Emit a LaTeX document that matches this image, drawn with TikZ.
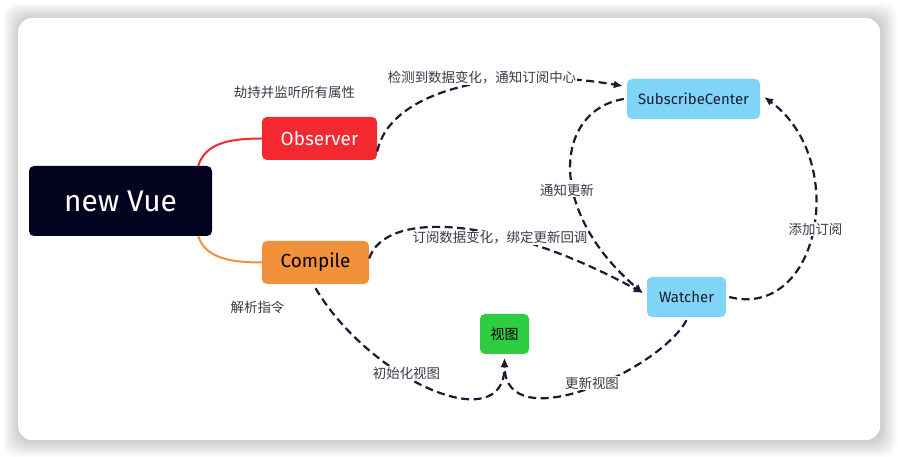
\documentclass[tikz,border=0pt]{standalone}
\usepackage{fontspec}
\setmainfont{Fira Sans}
\newfontfamily\cjk{Noto Sans CJK SC}
\usetikzlibrary{arrows.meta}
\definecolor{vuedark}{HTML}{03031F}
\definecolor{obsred}{HTML}{F4282F}
\definecolor{cmporange}{HTML}{F2913C}
\definecolor{subblue}{HTML}{80D4F6}
\definecolor{viewgreen}{HTML}{2ECC40}
\definecolor{flowcol}{HTML}{1A1A33}
\definecolor{notecol}{HTML}{3A3A4A}
\tikzset{
  topic/.style={rounded corners=5bp, inner sep=0pt},
  flow/.style={-{Latex[length=9bp,width=8bp]}, dash pattern=on 8bp off 4.5bp, line width=2.2bp, draw=flowcol},
  branch/.style={line width=2bp},
  note/.style={fill=white, inner sep=1bp, text=notecol, font=\cjk\fontsize{13.5}{16}\selectfont},
}

\begin{document}
\begin{tikzpicture}[line join=round]
%% card and its shadow
\useasboundingbox (0bp,0bp) rectangle (898bp,457bp);
\fill[white] (0bp,0bp) rectangle (898bp,457bp);
\foreach \i in {1,...,16}
  \fill[black, opacity=0.012, rounded corners=14bp] (18bp-\i bp+1bp,17bp-\i bp-1bp) rectangle (880bp+\i bp+1bp,439bp+\i bp-1bp);
\fill[white, rounded corners=14bp] (18bp,17bp) rectangle (880bp,439bp);
%%
\node (vue) at (120.5bp,256.0bp) [topic,fill=vuedark,text=white,minimum width=183bp,minimum height=70bp,font=\fontsize{30}{34}\selectfont] {new Vue};
  \node (observer) at (319.5bp,318.5bp) [topic,fill=obsred,text=white,minimum width=115bp,minimum height=43bp,font=\fontsize{19}{22}\selectfont] {Observer};
  \node (compile) at (315.5bp,194.5bp) [topic,fill=cmporange,text=black,minimum width=107bp,minimum height=43bp,font=\fontsize{19}{22}\selectfont] {Compile};
  \node (center) at (693.5bp,358.0bp) [topic,fill=subblue,text=flowcol,minimum width=133bp,minimum height=40bp,font=\fontsize{15}{18}\selectfont] {SubscribeCenter};
  \node (watcher) at (686.5bp,160.0bp) [topic,fill=subblue,text=flowcol,minimum width=79bp,minimum height=40bp,font=\fontsize{15}{18}\selectfont] {Watcher};
  \node (view) at (504.5bp,123.0bp) [topic,fill=viewgreen,text=black,minimum width=49bp,minimum height=40bp,font=\cjk\fontsize{14}{16}\selectfont] {视图};
%
  \draw [branch,obsred] ([xshift=-14bp]vue.north east) ..controls (205bp,312bp) and (225bp,318.5bp)  .. (observer.west);
  \draw [branch,cmporange] ([xshift=-14bp]vue.south east) ..controls (205bp,201bp) and (225bp,194.5bp)  .. (compile.west);
  \draw [flow] ([yshift=-13bp]observer.east) ..controls (390bp,367bp) and (500bp,392bp)  .. ([xshift=-4bp,yshift=13bp]center.west);
  \draw [flow] ([xshift=-3bp]center.west) ..controls (555bp,347bp) and (545bp,247bp)  .. ([xshift=-4bp,yshift=4bp]watcher.west);
  \draw [flow] ([yshift=4bp]compile.east) ..controls (385bp,247bp) and (500bp,242bp)  .. ([xshift=-4bp,yshift=4bp]watcher.west);
  \draw [flow] ([xshift=3bp]watcher.east) ..controls (820bp,137bp) and (850bp,297bp)  .. ([xshift=4bp,yshift=2bp]center.east);
  \draw [flow] ([yshift=-4bp]compile.south) ..controls (370bp,77bp) and (505bp,17bp)  .. ([yshift=-4bp]view.south);
  \draw [flow] ([yshift=-3bp]watcher.south) ..controls (660bp,87bp) and (505bp,17bp)  .. ([yshift=-4bp]view.south);
%
  \node (hijack) at (294.5bp,365.0bp) [note] {劫持并监听所有属性};
  \node (detect) at (482.0bp,379.0bp) [note] {检测到数据变化，通知订阅中心};
  \node (notify) at (567.0bp,267.0bp) [note] {通知更新};
  \node (addsub) at (815.5bp,228.0bp) [note] {添加订阅};
  \node (bind) at (500.0bp,219.0bp) [note] {订阅数据变化，绑定更新回调};
  \node (parse) at (257.5bp,150.0bp) [note] {解析指令};
  \node (init) at (406.5bp,84.0bp) [note] {初始化视图};
  \node (update) at (592.0bp,74.0bp) [note] {更新视图};
%
\end{tikzpicture}
\end{document}
